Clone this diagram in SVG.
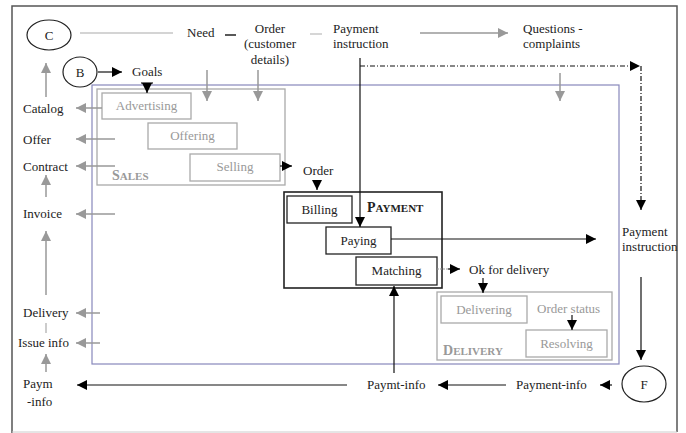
<svg xmlns="http://www.w3.org/2000/svg" width="686" height="433" viewBox="0 0 686 433" font-family="'Liberation Serif', 'DejaVu Serif', serif">
<defs>
<marker id="ab" viewBox="0 0 10 10" refX="10" refY="5" markerWidth="10" markerHeight="10" markerUnits="userSpaceOnUse" orient="auto"><path d="M0,0 L10,5 L0,10 Z" fill="#000"/></marker>
<marker id="ag" viewBox="0 0 10 10" refX="10" refY="5" markerWidth="11" markerHeight="10" markerUnits="userSpaceOnUse" orient="auto"><path d="M0,0 L10,5 L0,10 Z" fill="#999"/></marker>
</defs>
<style>
text{font-family:'Liberation Serif','DejaVu Serif',serif;font-size:13px;fill:#222}
.g{fill:#999}
.c{text-anchor:middle}
.gb{fill:none;stroke:#aaa;stroke-width:1.3}
.bb{fill:#fff;stroke:#222;stroke-width:1.3}
.gl{fill:none;stroke:#999;stroke-width:1.5}
.bl{fill:none;stroke:#111;stroke-width:1.2}
.sc{font-weight:bold}
</style>
<rect x="0" y="0" width="686" height="433" fill="#fff"/>
<g id="frame">
<path d="M12,433 L12,6 L677,6 L677,432" fill="none" stroke="#555" stroke-width="1.5"/>
<line x1="12" y1="432" x2="677" y2="432" stroke="#ccc" stroke-width="1"/>
<rect x="92" y="85" width="527" height="279" fill="none" stroke="#8888bb" stroke-width="1.2"/>
</g>
<g id="sales">
<rect class="gb" x="97" y="89" width="188" height="96"/>
<text x="112" y="180" class="g sc"><tspan font-size="14">S</tspan><tspan font-size="11">ALES</tspan></text>
</g>
<g id="advertising"><rect class="gb" x="102" y="93" width="89" height="26"/><text class="g c" x="146.5" y="110">Advertising</text></g>
<g id="offering"><rect class="gb" x="148" y="123" width="89" height="26"/><text class="g c" x="192.5" y="140">Offering</text></g>
<g id="selling"><rect class="gb" x="190" y="154" width="90" height="27"/><text class="g c" x="235" y="171">Selling</text></g>
<g id="payment">
<rect x="284" y="192" width="158" height="96" fill="none" stroke="#222" stroke-width="1.6"/>
<text x="367" y="212" class="sc" fill="#111"><tspan font-size="14">P</tspan><tspan font-size="11">AYMENT</tspan></text>
</g>
<g id="billing"><rect class="bb" x="287" y="196" width="65" height="27"/><text class="c" x="319.5" y="214">Billing</text></g>
<g id="paying"><rect class="bb" x="326" y="227" width="65" height="27"/><text class="c" x="358.5" y="245">Paying</text></g>
<g id="matching"><rect class="bb" x="356" y="257" width="81" height="28"/><text class="c" x="396.5" y="275">Matching</text></g>
<g id="delivery">
<rect class="gb" x="437" y="292" width="175" height="68"/>
<text x="443" y="355" class="g sc"><tspan font-size="14">D</tspan><tspan font-size="11">ELIVERY</tspan></text>
<text class="g" x="537" y="313">Order status</text>
</g>
<g id="delivering"><rect class="gb" x="441" y="296" width="86" height="27"/><text class="g c" x="484" y="314">Delivering</text></g>
<g id="resolving"><rect class="gb" x="526" y="330" width="81" height="27"/><text class="g c" x="566.5" y="348">Resolving</text></g>
<g id="nodeC"><ellipse cx="49" cy="35" rx="22" ry="15" fill="none" stroke="#222" stroke-width="1.2"/><text class="c" x="49" y="40" font-size="14">C</text></g>
<g id="nodeB"><ellipse cx="80" cy="72" rx="17" ry="15" fill="none" stroke="#222" stroke-width="1.2"/><text class="c" x="80" y="77" font-size="14">B</text></g>
<g id="nodeF"><ellipse cx="644" cy="384" rx="22" ry="18" fill="none" stroke="#222" stroke-width="1.2"/><text class="c" x="644" y="389" font-size="14">F</text></g>
<g id="labels">
<text x="187" y="37">Need</text>
<text class="c" x="270" y="33">Order</text>
<text class="c" x="270" y="48">(customer</text>
<text class="c" x="270" y="64">details)</text>
<text x="333" y="33">Payment</text>
<text x="333" y="48">instruction</text>
<text x="523" y="33">Questions -</text>
<text x="523" y="48">complaints</text>
<text x="132" y="76">Goals</text>
<text x="303" y="175">Order</text>
<text x="469" y="274">Ok for delivery</text>
<text x="622" y="236">Payment</text>
<text x="622" y="251">instruction</text>
<text x="516" y="389">Payment-info</text>
<text x="367" y="389">Paymt-info</text>
<text x="23" y="388">Paym</text>
<text x="27" y="406">-info</text>
<text x="23" y="113">Catalog</text>
<text x="23" y="144">Offer</text>
<text x="23" y="171">Contract</text>
<text x="23" y="218">Invoice</text>
<text x="23" y="317">Delivery</text>
<text x="18" y="347">Issue info</text>
</g>
<g id="connectors">
<line x1="80" y1="33" x2="173" y2="33" stroke="#aaa" stroke-width="1.2"/>
<line x1="225" y1="35" x2="236" y2="35" stroke="#222" stroke-width="1.5"/>
<line x1="310" y1="34" x2="322" y2="34" stroke="#bbb" stroke-width="1.2"/>
<line class="gl" x1="420" y1="33" x2="508" y2="33" marker-end="url(#ag)"/>
<line class="gl" x1="207" y1="70" x2="207" y2="101" marker-end="url(#ag)"/>
<line class="gl" x1="258" y1="70" x2="258" y2="101" marker-end="url(#ag)"/>
<line class="gl" x1="560" y1="73" x2="560" y2="101" marker-end="url(#ag)"/>
<line class="bl" x1="98" y1="72" x2="122" y2="72" marker-end="url(#ab)"/>
<line stroke="#111" stroke-width="1.2" x1="141" y1="83" x2="153" y2="83"/>
<line class="bl" x1="147" y1="83" x2="147" y2="93" marker-end="url(#ab)"/>
<line class="bl" x1="360" y1="58" x2="360" y2="227" marker-end="url(#ab)"/>
<path d="M360,66 L640,66" fill="none" stroke="#111" stroke-width="1.2" stroke-dasharray="5,2,1,2" marker-end="url(#ab)"/>
<path d="M641,66 L641,210" fill="none" stroke="#111" stroke-width="1.2" stroke-dasharray="5,2,1,2" marker-end="url(#ab)"/>
<line class="gl" x1="102" y1="108" x2="76" y2="108" marker-end="url(#ag)"/>
<line class="gl" x1="115" y1="139" x2="76" y2="139" marker-end="url(#ag)"/>
<line class="gl" x1="115" y1="166" x2="76" y2="166" marker-end="url(#ag)"/>
<line class="gl" x1="115" y1="214" x2="76" y2="214" marker-end="url(#ag)"/>
<line class="gl" x1="100" y1="313" x2="76" y2="313" marker-end="url(#ag)"/>
<line class="gl" x1="100" y1="343" x2="76" y2="343" marker-end="url(#ag)"/>
<line class="gl" x1="46" y1="97" x2="46" y2="63" marker-end="url(#ag)"/>
<line class="gl" x1="46" y1="197" x2="46" y2="175" marker-end="url(#ag)"/>
<line class="gl" x1="46" y1="295" x2="46" y2="231" marker-end="url(#ag)"/>
<line x1="46" y1="323" x2="46" y2="333" stroke="#bbb" stroke-width="1.5"/>
<line class="gl" x1="46" y1="372" x2="46" y2="354" marker-end="url(#ag)"/>
<line class="bl" x1="280" y1="166" x2="292" y2="166" marker-end="url(#ab)"/>
<line class="bl" x1="317" y1="180" x2="317" y2="190" marker-end="url(#ab)"/>
<line class="bl" x1="391" y1="239" x2="596" y2="239" marker-end="url(#ab)"/>
<line x1="437" y1="269" x2="450" y2="269" stroke="#999" stroke-width="1" stroke-dasharray="2,1"/>
<line class="bl" x1="448" y1="269" x2="460" y2="269" marker-end="url(#ab)"/>
<line class="bl" x1="483" y1="278" x2="483" y2="293" marker-end="url(#ab)"/>
<line class="bl" x1="572" y1="315" x2="572" y2="330" marker-end="url(#ab)"/>
<line class="bl" x1="641" y1="277" x2="641" y2="360" marker-end="url(#ab)"/>
<line class="bl" x1="394" y1="373" x2="394" y2="286" marker-end="url(#ab)"/>
<line class="bl" x1="612" y1="385" x2="600" y2="385" marker-end="url(#ab)"/>
<line class="bl" x1="506" y1="385" x2="438" y2="385" marker-end="url(#ab)"/>
<line class="bl" x1="347" y1="385" x2="77" y2="385" marker-end="url(#ab)"/>
</g>
</svg>
